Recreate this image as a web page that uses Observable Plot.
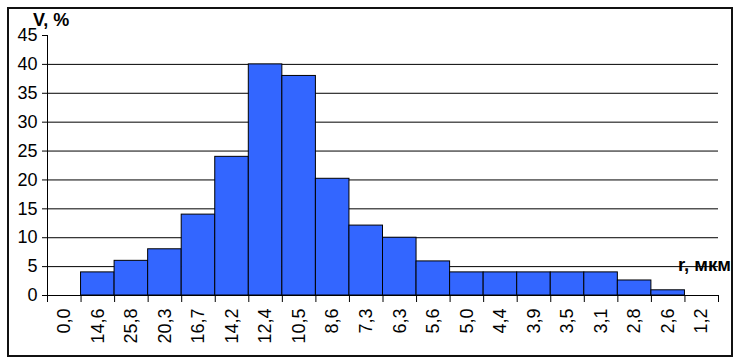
<!DOCTYPE html>
<html>
<head>
<meta charset="utf-8">
<script src="https://cdn.jsdelivr.net/npm/d3@7"></script>
<script src="https://cdn.jsdelivr.net/npm/@observablehq/plot@0.6"></script>
<style>
  html, body { margin: 0; padding: 0; background: #fff; }
  #wrap { position: relative; width: 738px; height: 362px; overflow: hidden; }
  #border { position: absolute; left: 7px; top: 7px; width: 722px; height: 346px; border: 2px solid #111; pointer-events: none; }
  .lbl { position: absolute; font-family: Arial, "Liberation Sans", sans-serif; font-weight: bold; color: #000; white-space: nowrap; line-height: 1; }
  #ylab { left: 33px; top: 11px; font-size: 18px; }
  #xlab { right: 7px; top: 256px; font-size: 18.5px; }
  #chart svg text { font-family: Arial, "Liberation Sans", sans-serif; }
</style>
</head>
<body>
<div id="wrap">
  <div id="chart"></div>
  <div id="border"></div>
  <div class="lbl" id="ylab">V, %</div>
  <div class="lbl" id="xlab">r, мкм</div>
</div>
<script>
const categories = ["0,0","14,6","25,8","20,3","16,7","14,2","12,4","10,5","8,6","7,3","6,3","5,6","5,0","4,4","3,9","3,5","3,1","2,8","2,6","1,2"];
const values = [0, 4, 6, 8, 14, 24, 40, 38, 20.2, 12.1, 10, 5.9, 4, 4, 4, 4, 4, 2.6, 0.9, 0];
const yTicks = [0, 5, 10, 15, 20, 25, 30, 35, 40, 45];
const gridTicks = [5, 10, 15, 20, 25, 30, 35, 40];

const data = categories.map((c, i) => ({c, i, v: values[i]}));
const n = categories.length;

const chart = Plot.plot({
  width: 738,
  height: 362,
  marginLeft: 47,
  marginRight: 20,
  marginTop: 35,
  marginBottom: 67,
  style: {fontFamily: "Arial, 'Liberation Sans', sans-serif", fontSize: "18px", background: "transparent", color: "#000"},
  x: {domain: [0, n]},
  y: {domain: [0, 45]},
  marks: [
    Plot.ruleY(gridTicks, {stroke: "#000", strokeWidth: 1}),
    Plot.rectY(data.filter(d => d.v > 0), {x1: "i", x2: d => d.i + 1, y1: 0, y2: "v", fill: "#3366ff", stroke: "#000", strokeWidth: 1, inset: 0}),
    Plot.ruleX([0], {y1: 0, y2: 45, stroke: "#000"}),
    Plot.ruleY([0], {stroke: "#000"}),
    Plot.axisY({ticks: yTicks, tickSize: 5, tickPadding: 5, label: null, fontSize: 18}),
    Plot.axisX({ticks: d3.range(0, n + 1), tickSize: 7, tickFormat: () => "", label: null}),
    Plot.axisX({ticks: data.map(d => d.i + 0.5), tickSize: 0, tickPadding: 13, tickRotate: -90, tickFormat: t => categories[Math.floor(t)], label: null, fontSize: 18})
  ]
});
document.getElementById("chart").appendChild(chart);
</script>
</body>
</html>
